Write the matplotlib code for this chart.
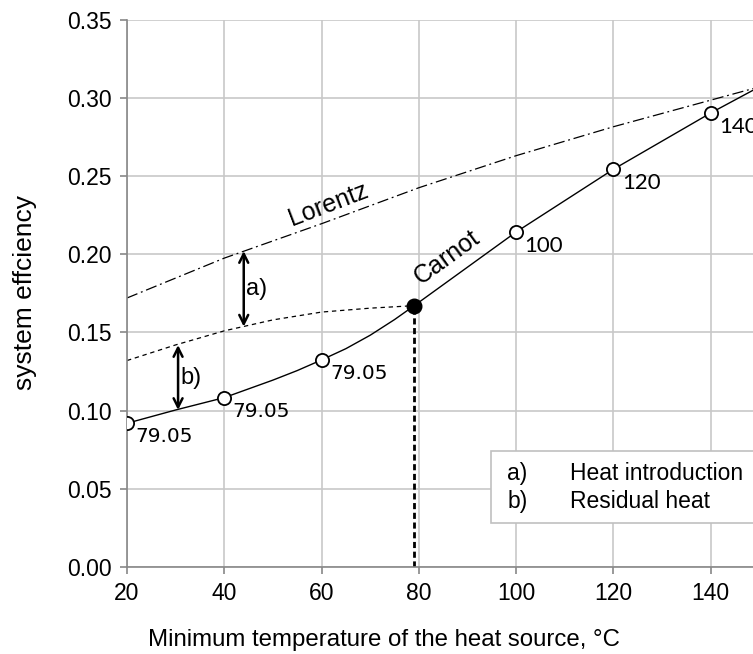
import matplotlib.pyplot as plt
from matplotlib.patches import Rectangle

# Carnot curve (solid)
carnot_x = [20, 30, 40, 50, 55, 60, 65, 70, 75, 79.05, 100, 120, 140, 150]
carnot_y = [0.0919, 0.1004, 0.1083, 0.1195, 0.1256, 0.1324, 0.1396, 0.1482, 0.1582,
            0.1671, 0.2142, 0.2543, 0.2903, 0.307]

# marked points on the Carnot curve
point_x = [20, 40, 60, 100, 120, 140]
point_y = [0.0919, 0.1083, 0.1324, 0.2142, 0.2543, 0.2903]
point_labels = ["79.05", "79.05", "79.05", "100", "120", "140"]
opt_x = 79.05
opt_y = 0.1671

# Lorentz limit (dash-dot)
lorentz_x = [20, 40, 60, 80, 100, 120, 140, 150]
lorentz_y = [0.172, 0.1975, 0.2195, 0.2425, 0.263, 0.2815, 0.2985, 0.307]

# residual heat line (dashed)
resid_x = [20, 30, 40, 50, 60, 70, 79.05]
resid_y = [0.132, 0.142, 0.151, 0.158, 0.163, 0.1655, 0.1671]

# double arrows a) and b)
arrow_names = ["a)", "b)"]
arrow_x = [44, 30.5]
arrow_top = [0.2020, 0.1419]
arrow_bot = [0.1537, 0.1004]

legend_keys = ["a)", "b)"]
legend_texts = ["Heat introduction", "Residual heat"]

W, H = 753, 654
fig = plt.figure(figsize=(W / 100, H / 100), dpi=100)
plt.rcParams['font.family'] = ['Liberation Sans', 'DejaVu Sans']

# axes run past the right edge of the figure, like the cropped original
ax = fig.add_axes([127 / W, 1 - 567 / H, (808 - 127) / W, (567 - 19.6) / H])
ax.set_xlim(20, 160)
ax.set_ylim(0, 0.35)
ax.set_xticks(range(20, 161, 20))
ax.set_yticks([i * 0.05 for i in range(8)])
ax.set_yticklabels(["%.2f" % (i * 0.05) for i in range(8)])
ax.grid(True, color="#c8c8c8", lw=1.2)
ax.set_axisbelow(True)
for s in ["top", "right"]:
    ax.spines[s].set_visible(False)
for s in ["left", "bottom"]:
    ax.spines[s].set_color("#888888")
    ax.spines[s].set_linewidth(1.2)
ax.tick_params(direction="out", length=5, width=1.2, color="#888888",
               labelsize=16.5, pad=6)

ax.plot(lorentz_x, lorentz_y, color="black", lw=0.9, dashes=(9, 3, 1.5, 3))
ax.plot(resid_x, resid_y, color="black", lw=0.9, dashes=(3.5, 3))
ax.plot(carnot_x, carnot_y, color="black", lw=1.0)
ax.plot([opt_x, opt_x], [0, opt_y], color="black", lw=2, dashes=(2.2, 1.3))

ax.plot(point_x, point_y, "o", ms=9.5, mfc="white", mec="black", mew=1.3, zorder=5)
ax.plot([opt_x], [opt_y], "o", ms=10.5, mfc="black", mec="black", zorder=5)

for x, y, lab in zip(point_x, point_y, point_labels):
    fam = "DejaVu Sans" if lab == "79.05" else "Lato"
    size = 14.5 if lab == "79.05" else 16
    ax.annotate(lab, (x, y), xytext=(6, -3), textcoords="offset points",
                ha="left", va="top", fontsize=size, family=fam)

for name, x, y0, y1 in zip(arrow_names, arrow_x, arrow_top, arrow_bot):
    ax.annotate("", xy=(x, y1), xytext=(x, y0),
                arrowprops=dict(arrowstyle="<->", lw=1.8, color="black",
                                shrinkA=0, shrinkB=0, mutation_scale=16))
    ax.text(x + 0.5, (y0 + y1) / 2, name, ha="left", va="center", fontsize=17)

ax.text(61.5, 0.2315, "Lorentz", rotation=21, ha="center", va="center", fontsize=18)
ax.text(85.8, 0.198, "Carnot", rotation=36, ha="center", va="center", fontsize=18)

# legend box drawn by hand, it is cut by the figure edge
ax.add_patch(Rectangle((94.9, 0.0279), 70, 0.0463, facecolor="white",
                       edgecolor="#c0c0c0", lw=1.2, zorder=6, clip_on=False))
for i, (k, t) in enumerate(zip(legend_keys, legend_texts)):
    y = 0.0601 - i * 0.0183
    ax.text(98.2, y, k, ha="left", va="center", fontsize=16.5, zorder=7)
    ax.text(111.1, y, t, ha="left", va="center", fontsize=16.5, zorder=7)

fig.text(383.5 / W, 1 - 645.7 / H, "Minimum temperature of the heat source, \u00b0C",
         ha="center", va="baseline", fontsize=17.3)
fig.text(25 / W, 1 - 292 / H, "system effciency", rotation=90,
         ha="center", va="center", fontsize=19)

fig.savefig("out.png", dpi=100)
